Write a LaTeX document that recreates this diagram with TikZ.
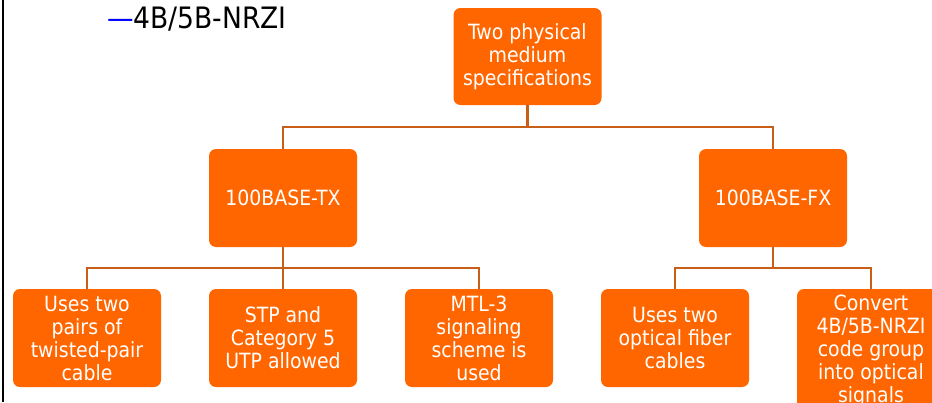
\documentclass[tikz,border=0pt]{standalone}
\usepackage{fontspec}
\setmainfont{DejaVu Sans Condensed}
\definecolor{boxfill}{RGB}{255,102,0}
\definecolor{linkcol}{RGB}{200,95,25}
\begin{document}
\begin{tikzpicture}[x=1pt,y=-1pt,
  orgbox/.style={rectangle, rounded corners=7pt, fill=boxfill, draw=none,
    text=white, align=center, inner sep=0pt, minimum width=148pt,
    minimum height=98pt, font=\fontsize{21}{23}\selectfont},
  link/.style={draw=linkcol, line width=2.4pt}]
\useasboundingbox (0,0) rectangle (932,402);
\clip (0,0) rectangle (932,402);

% left page rule
\draw[line width=2.2pt] (3,0) -- (3,402);

% heading fragment
\node[anchor=base west, inner sep=0pt, font=\fontsize{29.5}{31}\selectfont]
  (head) at (107,28) {{\color{blue}—}4B/5B-NRZI};

% boxes
\node[orgbox, minimum height=97pt] (top) at (527.5,56.5) {Two physical\\medium\\specifications};
\node[orgbox] (tx) at (283,198) {100BASE-TX};
\node[orgbox] (fx) at (773,198) {100BASE-FX};

\node[orgbox] (b1) at (87,338) {Uses two\\pairs of\\twisted-pair\\cable};
\node[orgbox] (b2) at (283,338) {STP and\\Category 5\\UTP allowed};
\node[orgbox] (b3) at (479,338) {MTL-3\\signaling\\scheme is\\used};
\node[orgbox] (b4) at (675,338) {Uses two\\optical fiber\\cables};
\node[orgbox, minimum height=124pt] (b5) at (871,351) {Convert\\4B/5B-NRZI\\code group\\into optical\\signals};

% junction points
\coordinate (j0) at (527.5,127);
\coordinate (jt) at (283,268);
\coordinate (jf) at (773,268);

% connectors
\draw[link] (top.south) -- (j0);
\draw[link] (j0) -| (tx.north);
\draw[link] (j0) -| (fx.north);

\draw[link] (tx.south) -- (jt);
\draw[link] (jt) -| (b1.north);
\draw[link] (jt) -- (b2.north);
\draw[link] (jt) -| (b3.north);

\draw[link] (fx.south) -- (jf);
\draw[link] (jf) -| (b4.north);
\draw[link] (jf) -| (b5.north);
\end{tikzpicture}
\end{document}
